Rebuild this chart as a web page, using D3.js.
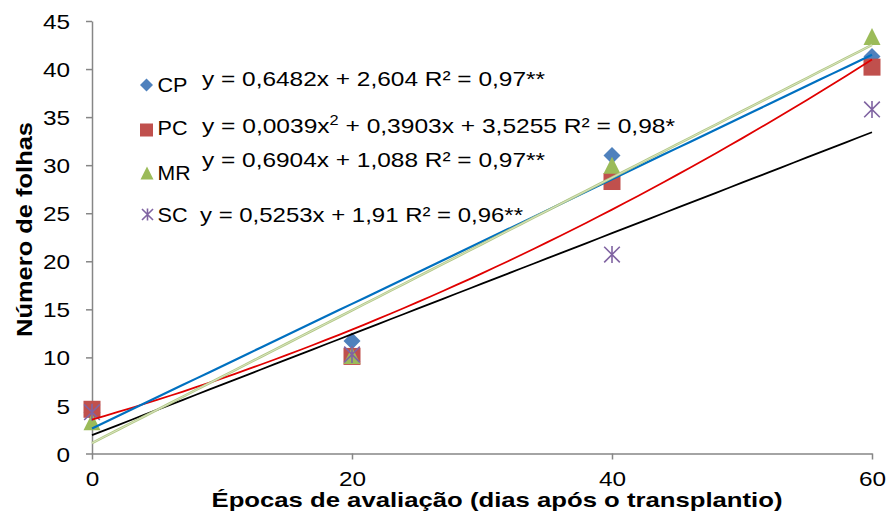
<!DOCTYPE html>
<html>
<head>
<meta charset="utf-8">
<script src="https://cdn.jsdelivr.net/npm/d3@7"></script>
<style>
  html, body { margin: 0; padding: 0; background: #fff; }
  svg { display: block; font-family: "Liberation Sans", Arial, sans-serif; }
</style>
</head>
<body>
<svg id="chart" width="889" height="516"></svg>
<script>
// ---- data ----
const days = [0, 20, 40, 60];
const cpValues = [4.3, 11.7, 31.0, 41.3];
const pcValues = [4.6, 10.1, 28.3, 40.2];
const mrValues = [3.3, 10.2, 30.0, 43.4];
const scValues = [4.3, 10.3, 20.7, 35.8];
// trendline coefficients [a (x^2), b (x), c]
const cpFit = [0, 0.6482, 2.604];
const pcFit = [0.0039, 0.3903, 3.5255];
const mrFit = [0, 0.6904, 1.088];
const scFit = [0, 0.5253, 1.91];
const yTicks = [0, 5, 10, 15, 20, 25, 30, 35, 40, 45];
const xTicks = [0, 20, 40, 60];
const seriesNames = ["CP", "PC", "MR", "SC"];
const equations = [
  "y = 0,6482x + 2,604 R² = 0,97**",
  null,
  "y = 0,6904x + 1,088 R² = 0,97**",
  "y = 0,5253x + 1,91 R² = 0,96**"
];
const xTitle = "Épocas de avaliação (dias após o transplantio)";
const yTitle = "Número de folhas";

const svg = d3.select("#chart");
const x = d3.scaleLinear().domain([0, 60]).range([92, 872]);
const y = d3.scaleLinear().domain([0, 45]).range([453.5, 21]);
const SX = 1.16;
const axisColor = "#868686";

// axes
const yAxis = svg.append("g").attr("transform", `translate(${x(0)},0)`)
  .call(d3.axisLeft(y).tickValues(yTicks).tickSize(6).tickSizeOuter(0).tickFormat(d3.format("d")));
const xAxis = svg.append("g").attr("transform", `translate(0,${y(0)})`)
  .call(d3.axisBottom(x).tickValues(xTicks).tickSize(6).tickSizeOuter(0).tickFormat(d3.format("d")));
[yAxis, xAxis].forEach(a => {
  a.select(".domain").attr("stroke", axisColor).attr("stroke-width", 1.5);
  a.selectAll(".tick line").attr("stroke", axisColor).attr("stroke-width", 1.5);
  a.selectAll(".tick text").attr("fill", "#000").attr("font-size", 21)
    .attr("font-family", '"Liberation Sans", Arial, sans-serif');
});
yAxis.selectAll(".tick text").attr("x", null).attr("dy", null)
  .attr("transform", `translate(-22,7.6) scale(${SX},1)`);
xAxis.selectAll(".tick text").attr("y", null).attr("dy", null)
  .attr("transform", `translate(0,32) scale(${SX},1)`);

// titles
svg.append("text").attr("x", 497).attr("y", 507).attr("text-anchor", "middle")
  .attr("font-size", 21).attr("font-weight", "bold")
  .attr("textLength", 571).attr("lengthAdjust", "spacingAndGlyphs").text(xTitle);
svg.append("text").attr("transform", "translate(32,229.5) rotate(-90)").attr("text-anchor", "middle")
  .attr("font-size", 22).attr("font-weight", "bold")
  .attr("textLength", 215).attr("lengthAdjust", "spacingAndGlyphs").text(yTitle);

// marker drawing
const colors = { CP: "#4F81BD", PC: "#C0504D", MR: "#9BBB59", SC: "#8064A2" };
function marker(g, name, cx, cy, s) {
  const h = s / 2;
  if (name === "CP") {
    g.append("path").attr("d", `M${cx},${cy - h}L${cx + h},${cy}L${cx},${cy + h}L${cx - h},${cy}Z`)
      .attr("fill", colors.CP);
  } else if (name === "PC") {
    g.append("rect").attr("x", cx - h).attr("y", cy - h).attr("width", s).attr("height", s)
      .attr("fill", colors.PC);
  } else if (name === "MR") {
    g.append("path").attr("d", `M${cx},${cy - h}L${cx + h},${cy + h}L${cx - h},${cy + h}Z`)
      .attr("fill", colors.MR);
  } else {
    const k = h * 0.92;
    g.append("path")
      .attr("d", `M${cx},${cy - h}L${cx},${cy + h}M${cx - k},${cy - k}L${cx + k},${cy + k}M${cx - k},${cy + k}L${cx + k},${cy - k}`)
      .attr("stroke", colors.SC).attr("stroke-width", 1.6).attr("fill", "none");
  }
}

const seriesData = { CP: cpValues, PC: pcValues, MR: mrValues, SC: scValues };
const markG = svg.append("g");
["CP", "PC", "MR", "SC"].forEach(name => {
  seriesData[name].forEach((v, i) => marker(markG, name, x(days[i]), y(v), 17));
});

// trendlines
const sampleX = d3.range(0, 60.01, 1);
const line = d3.line().x(d => x(d[0])).y(d => y(d[1]));
function fitPts(f) { return sampleX.map(t => [t, f[0] * t * t + f[1] * t + f[2]]); }
const tg = svg.append("g").attr("fill", "none");
tg.append("path").attr("d", line(fitPts(scFit))).attr("stroke", "#000").attr("stroke-width", 1.8);
tg.append("path").attr("d", line(fitPts(pcFit))).attr("stroke", "#E00000").attr("stroke-width", 1.8);
tg.append("path").attr("d", line(fitPts(cpFit))).attr("stroke", "#0070C0").attr("stroke-width", 2.2);
tg.append("path").attr("d", line(fitPts(mrFit))).attr("stroke", "#B3C986").attr("stroke-width", 2.6);
tg.append("path").attr("d", line(fitPts(mrFit))).attr("stroke", "#E2EAD0").attr("stroke-width", 0.8);

// legend
const lg = svg.append("g");
const legMarkers = [[146.5, 85], [146.5, 130], [147, 173], [147.5, 214.5]];
const legLabelY = [91.5, 135, 180, 221.5];
const labelW = [30, 30, 33, 30];
seriesNames.forEach((n, i) => {
  marker(lg, n, legMarkers[i][0], legMarkers[i][1], n === "SC" ? 12 : 13);
  lg.append("text").attr("x", 157.5).attr("y", legLabelY[i]).attr("font-size", 21)
    .attr("textLength", labelW[i]).attr("lengthAdjust", "spacingAndGlyphs").text(n);
});
const eqX = [202, 202, 202, 200];
const eqY = [86, 133, 167, 221.5];
const eqW = [343, 473, 343, 323];
[0, 2, 3].forEach(i => {
  lg.append("text").attr("x", eqX[i]).attr("y", eqY[i]).attr("font-size", 21)
    .attr("textLength", eqW[i]).attr("lengthAdjust", "spacingAndGlyphs").text(equations[i]);
});
const pcEq = lg.append("text").attr("x", eqX[1]).attr("y", eqY[1]).attr("font-size", 21)
  .attr("textLength", eqW[1]).attr("lengthAdjust", "spacingAndGlyphs");
pcEq.append("tspan").text("y = 0,0039x");
pcEq.append("tspan").attr("dy", -8).attr("font-size", 14).text("2");
pcEq.append("tspan").attr("dy", 8).text(" + 0,3903x + 3,5255 R² = 0,98*");
</script>
</body>
</html>
